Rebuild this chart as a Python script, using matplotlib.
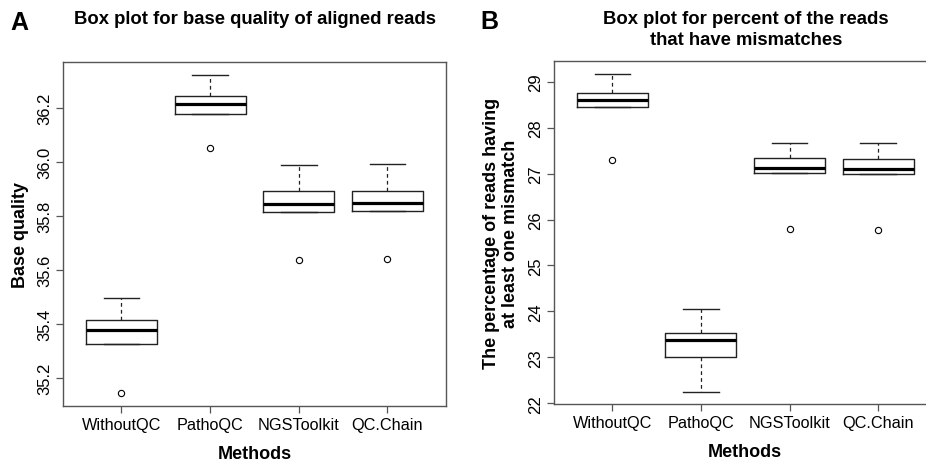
import matplotlib.pyplot as plt
from matplotlib import rcParams

rcParams['font.family'] = ['Liberation Sans', 'DejaVu Sans']

methods = ['WithoutQC', 'PathoQC', 'NGSToolkit', 'QC.Chain']

# Panel A: base quality of aligned reads
a_whislo = [35.325, 36.180, 35.815, 35.819]
a_q1 = [35.325, 36.180, 35.815, 35.819]
a_med = [35.380, 36.214, 35.846, 35.849]
a_q3 = [35.415, 36.246, 35.893, 35.895]
a_whishi = [35.498, 36.323, 35.990, 35.994]
a_out = [[35.147], [36.054], [35.637], [35.641]]

# Panel B: percent of reads with at least one mismatch
b_whislo = [28.448, 22.253, 27.010, 26.996]
b_q1 = [28.448, 23.016, 27.010, 26.996]
b_med = [28.608, 23.379, 27.112, 27.105]
b_q3 = [28.746, 23.539, 27.337, 27.322]
b_whishi = [29.174, 24.062, 27.678, 27.664]
b_out = [[27.308], [], [25.797], [25.783]]

line_col = '#222222'
spine_col = '#555555'


def make_stats(lo, q1, med, q3, hi, out):
    stats = []
    for i in range(len(methods)):
        stats.append({'whislo': lo[i], 'q1': q1[i], 'med': med[i],
                      'q3': q3[i], 'whishi': hi[i], 'fliers': out[i]})
    return stats


def draw_panel(ax, stats, ylim, yticks, ytick_labels, ylabel):
    ax.bxp(stats, positions=range(1, len(methods) + 1), widths=0.8,
           boxprops=dict(color=line_col, linewidth=1.0),
           medianprops=dict(color='black', linewidth=2.3),
           whiskerprops=dict(color=line_col, linewidth=0.9, linestyle=(0, (3, 2.5))),
           capprops=dict(color=line_col, linewidth=1.0),
           capwidths=0.4,
           flierprops=dict(marker='o', markersize=4.5, markerfacecolor='none',
                           markeredgecolor='black', markeredgewidth=0.8))
    ax.set_xlim(0.34, 4.66)
    ax.set_ylim(*ylim)
    ax.set_xticks(range(1, len(methods) + 1))
    ax.set_xticklabels(methods, fontsize=11.7)
    ax.set_yticks(yticks)
    ax.set_yticklabels(ytick_labels, fontsize=12, rotation=90, va='center')
    ax.tick_params(direction='out', length=5, width=0.9, color=spine_col, pad=3)
    for s in ax.spines.values():
        s.set_color(spine_col)
        s.set_linewidth(1.0)
    ax.set_xlabel('Methods', fontsize=13, fontweight='bold', labelpad=9)
    ax.set_ylabel(ylabel, fontsize=13, fontweight='bold', labelpad=6)


fig = plt.figure(figsize=(9.26, 4.64), dpi=100)

ax1 = fig.add_axes([0.068, 0.1228, 0.4136, 0.7414])
draw_panel(ax1, make_stats(a_whislo, a_q1, a_med, a_q3, a_whishi, a_out),
           (35.097, 36.371), [35.2, 35.4, 35.6, 35.8, 36.0, 36.2],
           ['35.2', '35.4', '35.6', '35.8', '36.0', '36.2'], 'Base quality')

ax2 = fig.add_axes([0.598, 0.127, 0.4136, 0.739])
draw_panel(ax2, make_stats(b_whislo, b_q1, b_med, b_q3, b_whishi, b_out),
           (21.98, 29.45), [22, 23, 24, 25, 26, 27, 28, 29],
           ['22', '23', '24', '25', '26', '27', '28', '29'],
           'The percentage of reads having\nat least one mismatch')

fig.text(255 / 926, 1 - 20 / 464, 'Box plot for base quality of aligned reads',
         ha='center', va='center', fontsize=13.3, fontweight='bold')
fig.text(746 / 926, 1 - 30 / 464, 'Box plot for percent of the reads\nthat have mismatches',
         ha='center', va='center', fontsize=13.3, fontweight='bold', linespacing=1.25)
fig.text(19 / 926, 1 - 23 / 464, 'A', ha='center', va='center', fontsize=18, fontweight='bold')
fig.text(489 / 926, 1 - 22 / 464, 'B', ha='center', va='center', fontsize=18, fontweight='bold')

plt.savefig('out.png', dpi=100)
